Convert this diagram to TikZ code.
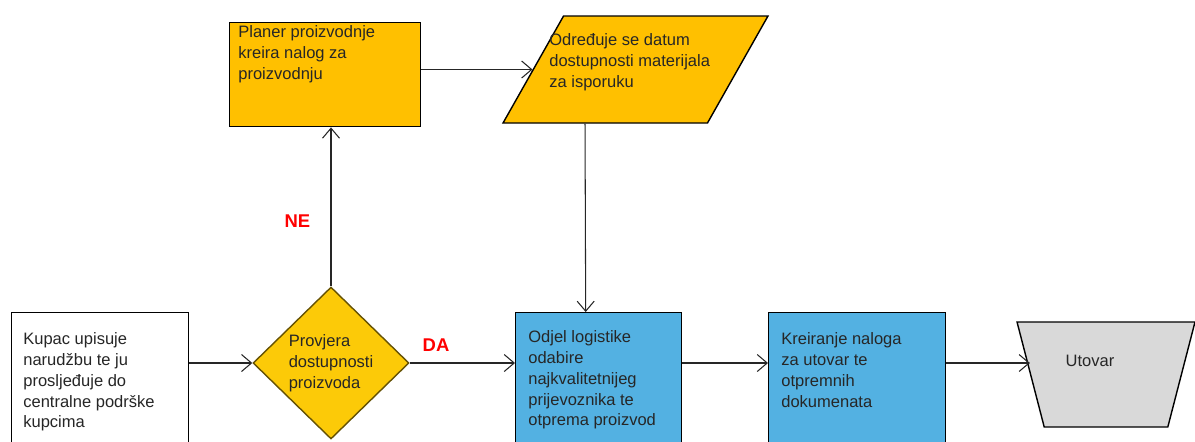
\documentclass[tikz,border=0pt]{standalone}
\usepackage{fontspec}
\setmainfont{Liberation Sans}
\usetikzlibrary{shapes.geometric,arrows.meta,calc}
\definecolor{zuta}{RGB}{255,192,0}
\definecolor{zlatna}{RGB}{252,202,8}
\definecolor{plava}{RGB}{83,177,226}
\definecolor{siva}{RGB}{217,217,217}

\begin{document}
\begin{tikzpicture}[x=0.02cm,y=-0.02cm,
     font=\fontsize{9.4}{11.9}\selectfont,
     block/.style = {draw, rectangle, line width=0.8pt, anchor=north west, inner sep=0pt},
     txt/.style = {anchor=north west, inner sep=0pt, align=left, text=black!85},
     decision/.style = {diamond, draw=black!60!zlatna, line width=0.8pt, fill=zlatna,
      minimum width=3.12cm, minimum height=3.04cm, inner sep=0pt, align=left, text=black!85},
     data/.style = {trapezium, draw, line width=0.8pt, fill=zuta, trapezium stretches=true,
      trapezium left angle=67.2, trapezium right angle=112.8,
      minimum width=5.3cm, minimum height=2.14cm, inner sep=2pt},
     manual/.style = {trapezium, draw, line width=0.8pt, fill=siva, trapezium stretches=true,
      trapezium left angle=77.6, trapezium right angle=77.6, shape border rotate=180,
      minimum width=3.56cm, minimum height=2.1cm, inner sep=2pt},
     arrow/.style = {draw, line width=0.6pt, black!85, -{Straight Barb[length=2mm,width=3.4mm]}},
     answer/.style = {text=red, font=\fontsize{10.5}{12}\selectfont\bfseries, inner sep=0pt}
    ]
    \useasboundingbox (0,0) rectangle (1195,441);

    \node [block, fill=white, minimum width=3.54cm, minimum height=3.2cm] (kupac) at (11,312) {};
    \node [txt] (kupac-txt) at (23,332) {Kupac upisuje\\narudžbu te ju\\prosljeđuje do\\centralne podrške\\kupcima};
    \node [decision] (provjera) at (331,363) {Provjera\\dostupnosti\\proizvoda};
    \node [block, fill=zuta, minimum width=3.82cm, minimum height=2.08cm] (planer) at (229,22) {};
    \node [txt] (planer-txt) at (238,25) {Planer proizvodnje\\kreira nalog za\\proizvodnju};
    \node [data] (datum) at (635.5,69.5) {};
    \node [txt] (datum-txt) at (549,33) {Određuje se datum\\dostupnosti materijala\\za isporuku};
    \node [block, fill=plava, minimum width=3.32cm, minimum height=3.2cm] (logistika) at (515,312) {};
    \node [txt] (logistika-txt) at (528,330) {Odjel logistike\\odabire\\najkvalitetnijeg\\prijevoznika te\\otprema proizvod};
    \node [block, fill=plava, minimum width=3.54cm, minimum height=3.2cm] (nalog) at (768,312) {};
    \node [txt] (nalog-txt) at (781,332) {Kreiranje naloga\\za utovar te\\otpremnih\\dokumenata};
    \node [manual] (utovar) at (1106,374.5) {};
    \node [text=black!85, inner sep=0pt] (utovar-txt) at (1090,361) {Utovar};

    \draw[arrow] (provjera.west -| kupac.east) -- (provjera.west);
    \draw[arrow] (provjera.east) -- node [answer, pos=0.25, above=6.5pt] {DA} (provjera.east -| logistika.west);
    \draw[arrow] (provjera.north) -- node [answer, pos=0.41, left=11.5pt] {NE} (planer.south -| provjera.north);
    \draw[arrow] (planer.east |- datum.west) -- (datum.west);
    \draw[arrow] ([xshift=-1.01cm]datum.south) -- ([xshift=-0.26cm]logistika.north);
    \draw[arrow] (provjera.east -| logistika.east) -- (provjera.east -| nalog.west);
    \draw[arrow] (provjera.east -| nalog.east) -- (provjera.east -| utovar.west);

\end{tikzpicture}
\end{document}
